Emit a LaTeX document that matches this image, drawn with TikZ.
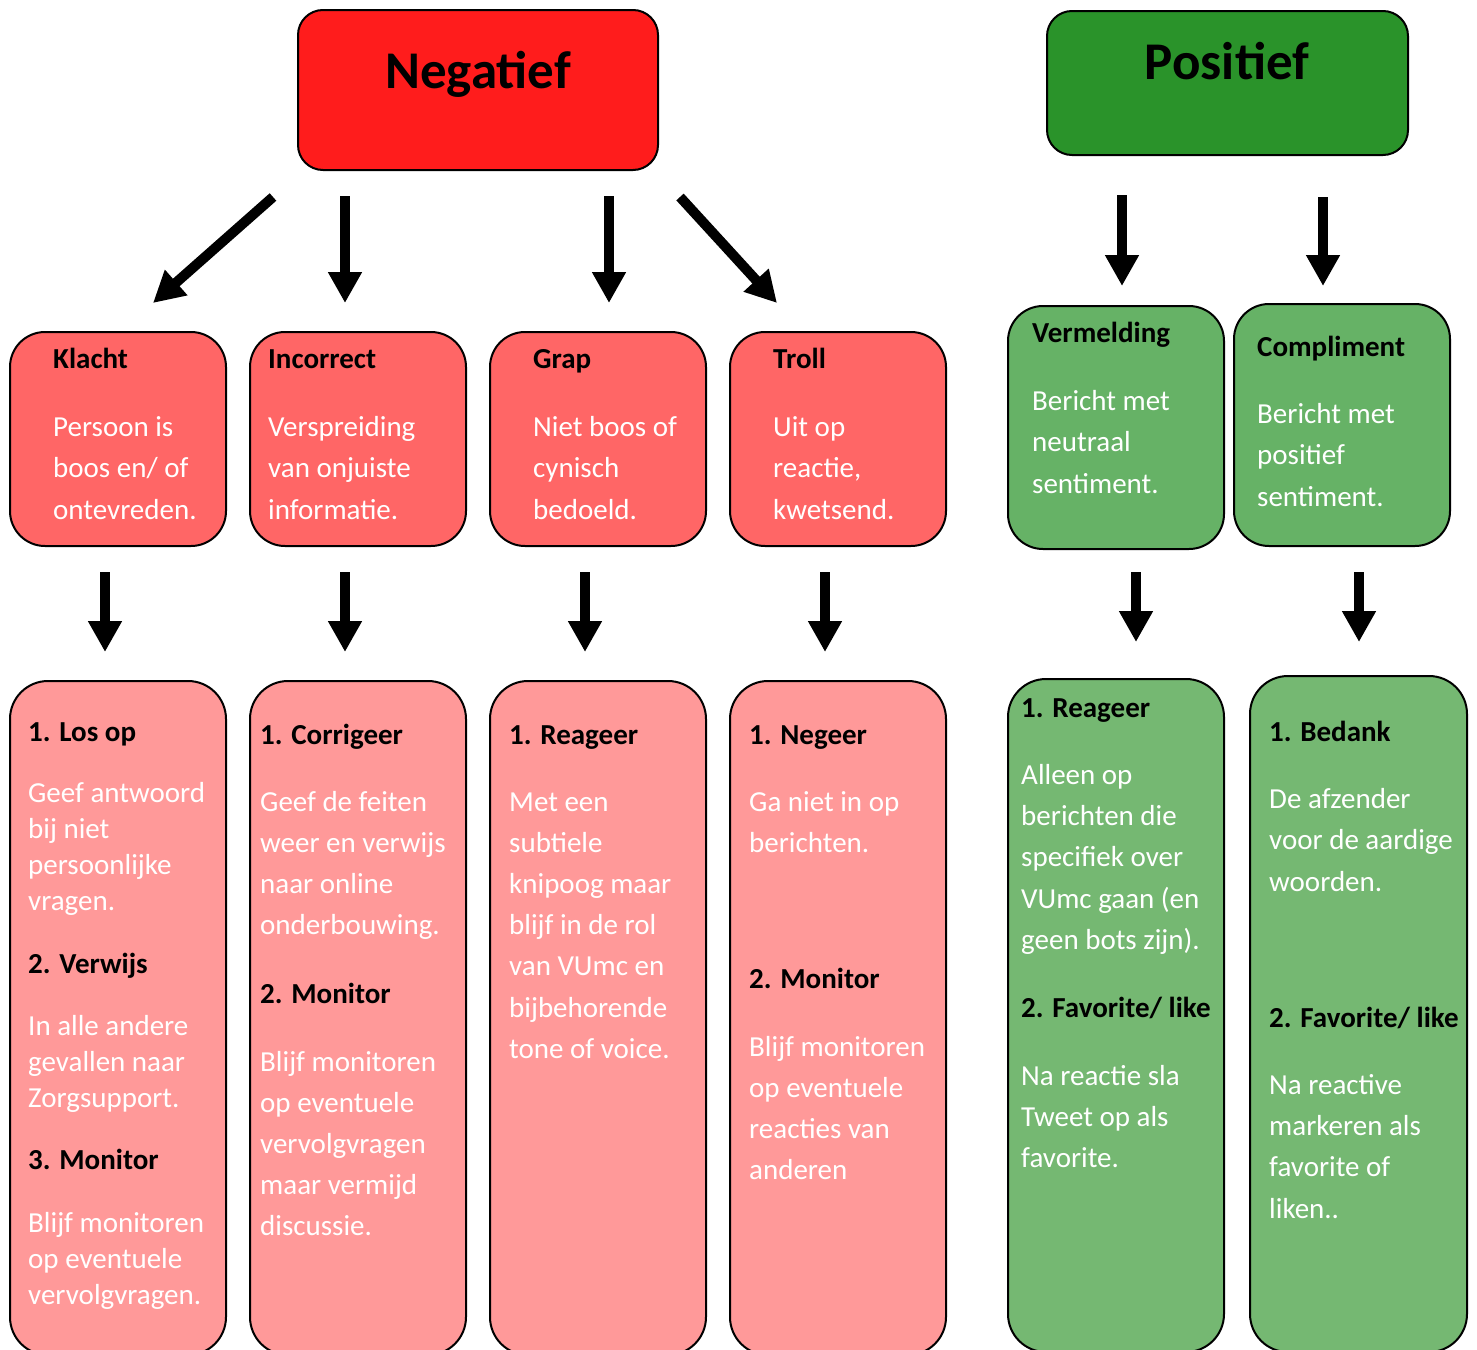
\documentclass[tikz,border=0pt]{standalone}
\usepackage{fontspec}
\setmainfont{Carlito}
\usetikzlibrary{arrows.meta}
\definecolor{redtop}{HTML}{FF1C1C}
\definecolor{redmid}{HTML}{FF6666}
\definecolor{redlow}{HTML}{FF9999}
\definecolor{greentop}{HTML}{2A932A}
\definecolor{greenmid}{HTML}{66B266}
\definecolor{greenlow}{HTML}{75B872}
\newcommand\bodyline[4]{\node[bodytxt] (#1) at (#2,#3) {#4};}
\newcommand\headline[4]{\node[headtxt] (#1) at (#2,#3) {#4};}
\begin{document}
\begin{tikzpicture}[x=1pt,y=-1pt,
  boxshape/.style={draw=black, line width=2pt, rectangle, anchor=north west, inner sep=0pt},
  topbox/.style={boxshape, minimum width=360pt, rounded corners=25pt},
  midbox/.style={boxshape, minimum width=216pt, rounded corners=35pt},
  lowbox/.style={boxshape, minimum width=216pt, rounded corners=38pt},
  bigarrow/.style={line width=10pt, -{Triangle[width=32pt,length=31pt]}},
  bodytxt/.style={anchor=base west, inner sep=0pt, text=white, font=\fontsize{29}{35}\selectfont},
  headtxt/.style={anchor=base west, inner sep=0pt, text=black, font=\fontsize{29}{35}\selectfont\bfseries},
  bigtxt/.style={anchor=base, inner sep=0pt, text=black, font=\fontsize{53}{60}\selectfont\bfseries}]
\useasboundingbox (0,0) rectangle (1477,1349);
\fill[white] (0,0) rectangle (1477,1349);
\clip (0,0) rectangle (1477,1349);

% top boxes
\node[topbox, fill=redtop, minimum height=160pt] (neg) at (297,9) {};
\node[bigtxt] (negt) at (478,88) {Negatief};
\node[topbox, fill=greentop, minimum width=361pt, minimum height=144pt] (pos) at (1046,10) {};
\node[bigtxt] (post) at (1227,79) {Positief};

% middle boxes
\node[midbox, fill=redmid, minimum height=214pt] (klacht) at (9,331) {};
\node[midbox, fill=redmid, minimum height=214pt] (incor) at (249,331) {};
\node[midbox, fill=redmid, minimum height=214pt] (grap) at (489,331) {};
\node[midbox, fill=redmid, minimum height=214pt] (troll) at (729,331) {};
\node[midbox, fill=greenmid, minimum height=243pt] (verm) at (1007,305) {};
\node[midbox, fill=greenmid, minimum height=242pt] (compl) at (1233,303) {};

\headline{klh}{53}{368}{Klacht}
\bodyline{kl1}{53}{436}{Persoon is}
\bodyline{kl2}{53}{477}{boos en/ of}
\bodyline{kl3}{53}{519}{ontevreden.}

\headline{inh}{268}{368}{Incorrect}
\bodyline{in1}{268}{436}{Verspreiding}
\bodyline{in2}{268}{477}{van onjuiste}
\bodyline{in3}{268}{519}{informatie.}

\headline{grh}{533}{368}{Grap}
\bodyline{gr1}{533}{436}{Niet boos of}
\bodyline{gr2}{533}{477}{cynisch}
\bodyline{gr3}{533}{519}{bedoeld.}

\headline{trh}{773}{368}{Troll}
\bodyline{tr1}{773}{436}{Uit op}
\bodyline{tr2}{773}{477}{reactie,}
\bodyline{tr3}{773}{519}{kwetsend.}

\headline{veh}{1032}{342}{Vermelding}
\bodyline{ve1}{1032}{410}{Bericht met}
\bodyline{ve2}{1032}{451}{neutraal}
\bodyline{ve3}{1032}{493}{sentiment.}

\headline{coh}{1257}{356}{Compliment}
\bodyline{co1}{1257}{423}{Bericht met}
\bodyline{co2}{1257}{464}{positief}
\bodyline{co3}{1257}{506}{sentiment.}

% bottom boxes
\node[lowbox, fill=redlow, minimum height=674pt] (bkl) at (9,680) {};
\node[lowbox, fill=redlow, minimum height=674pt] (bin) at (249,680) {};
\node[lowbox, fill=redlow, minimum height=674pt] (bgr) at (489,680) {};
\node[lowbox, fill=redlow, minimum height=674pt] (btr) at (729,680) {};
\node[lowbox, fill=greenlow, minimum height=673pt] (bve) at (1007,678) {};
\node[lowbox, fill=greenlow, minimum width=217pt, minimum height=676pt] (bco) at (1249,675) {};

\headline{a0}{28}{741}{1. Los op}
\bodyline{a1}{28}{802}{Geef antwoord}
\bodyline{a2}{28}{838}{bij niet}
\bodyline{a3}{28}{874}{persoonlijke}
\bodyline{a4}{28}{910}{vragen.}
\headline{a5}{28}{973}{2. Verwijs}
\bodyline{a6}{28}{1035}{In alle andere}
\bodyline{a7}{28}{1071}{gevallen naar}
\bodyline{a8}{28}{1107}{Zorgsupport.}
\headline{a9}{28}{1169}{3. Monitor}
\bodyline{a10}{28}{1232}{Blijf monitoren}
\bodyline{a11}{28}{1268}{op eventuele}
\bodyline{a12}{28}{1304}{vervolgvragen.}

\headline{b0}{260}{744}{1. Corrigeer}
\bodyline{b1}{260}{811}{Geef de feiten}
\bodyline{b2}{260}{852}{weer en verwijs}
\bodyline{b3}{260}{893}{naar online}
\bodyline{b4}{260}{934}{onderbouwing.}
\headline{b5}{260}{1003}{2. Monitor}
\bodyline{b6}{260}{1071}{Blijf monitoren}
\bodyline{b7}{260}{1112}{op eventuele}
\bodyline{b8}{260}{1153}{vervolgvragen}
\bodyline{b9}{260}{1194}{maar vermijd}
\bodyline{b10}{260}{1235}{discussie.}

\headline{c0}{509}{744}{1. Reageer}
\bodyline{c1}{509}{811}{Met een}
\bodyline{c2}{509}{852}{subtiele}
\bodyline{c3}{509}{893}{knipoog maar}
\bodyline{c4}{509}{934}{blijf in de rol}
\bodyline{c5}{509}{975}{van VUmc en}
\bodyline{c6}{509}{1017}{bijbehorende}
\bodyline{c7}{509}{1058}{tone of voice.}

\headline{d0}{749}{744}{1. Negeer}
\bodyline{d1}{749}{811}{Ga niet in op}
\bodyline{d2}{749}{852}{berichten.}
\headline{d3}{749}{988}{2. Monitor}
\bodyline{d4}{749}{1056}{Blijf monitoren}
\bodyline{d5}{749}{1097}{op eventuele}
\bodyline{d6}{749}{1138}{reacties van}
\bodyline{d7}{749}{1179}{anderen}

\headline{e0}{1021}{717}{1. Reageer}
\bodyline{e1}{1021}{784}{Alleen op}
\bodyline{e2}{1021}{825}{berichten die}
\bodyline{e3}{1021}{866}{specifiek over}
\bodyline{e4}{1021}{908}{VUmc gaan (en}
\bodyline{e5}{1021}{949}{geen bots zijn).}
\headline{e6}{1021}{1017}{2. Favorite/ like}
\bodyline{e7}{1021}{1085}{Na reactie sla}
\bodyline{e8}{1021}{1126}{Tweet op als}
\bodyline{e9}{1021}{1167}{favorite.}

\headline{f0}{1269}{741}{1. Bedank}
\bodyline{f1}{1269}{808}{De afzender}
\bodyline{f2}{1269}{849}{voor de aardige}
\bodyline{f3}{1269}{891}{woorden.}
\headline{f4}{1269}{1027}{2. Favorite/ like}
\bodyline{f5}{1269}{1094}{Na reactive}
\bodyline{f6}{1269}{1135}{markeren als}
\bodyline{f7}{1269}{1176}{favorite of}
\bodyline{f8}{1269}{1218}{liken..}

% arrow coordinates
\coordinate (s1) at (273,197); \coordinate (t1) at (153,303);
\coordinate (s2) at (345,196); \coordinate (t2) at (345,303);
\coordinate (s3) at (609,196); \coordinate (t3) at (609,303);
\coordinate (s4) at (680,197); \coordinate (t4) at (777,303);
\coordinate (s5) at (1122,195); \coordinate (t5) at (1122,286);
\coordinate (s6) at (1323,197); \coordinate (t6) at (1323,286);
\coordinate (m1) at (105,572); \coordinate (n1) at (105,652);
\coordinate (m2) at (345,572); \coordinate (n2) at (345,652);
\coordinate (m3) at (585,572); \coordinate (n3) at (585,652);
\coordinate (m4) at (825,572); \coordinate (n4) at (825,652);
\coordinate (m5) at (1136,572); \coordinate (n5) at (1136,642);
\coordinate (m6) at (1359,572); \coordinate (n6) at (1359,642);
\foreach \i in {1,...,6} {
  \draw[bigarrow] (s\i) -- (t\i);
  \draw[bigarrow] (m\i) -- (n\i);
}
\end{tikzpicture}
\end{document}
